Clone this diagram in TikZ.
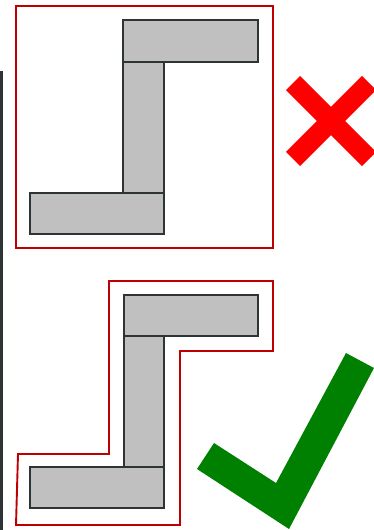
\documentclass[tikz,border=0pt]{standalone}
\begin{document}
\begin{tikzpicture}[x=1pt,y=-1pt,
  bar/.style={fill=barfill,draw=baredge,line width=1.8pt},
  outline/.style={draw=outred,line width=1.9pt},
  ]
\definecolor{barfill}{HTML}{C0C0C0}
\definecolor{baredge}{HTML}{2E3436}
\definecolor{outred}{HTML}{C00000}
\definecolor{okgreen}{HTML}{008000}
\useasboundingbox (0,0) rectangle (374,530);
\clip (0,0) rectangle (374,530);
% left edge line
\draw[baredge,line width=3pt] (1.5,71) -- (1.5,531);
% top panel
\draw[outline] (16,6) rectangle (273,248);
\draw[bar] (123,62) rectangle (164,193);
\draw[bar] (123,20) rectangle (258,62);
\draw[bar] (30,193) rectangle (164,234);
% red cross
\draw[red,line width=20pt] (293,83) -- (369,159);
\draw[red,line width=20pt] (369,83) -- (293,159);
% bottom panel
\draw[outline] (109,281) -- (273,281) -- (273,351) -- (180,351) -- (180,525) -- (16,525) -- (18,454) -- (109,454) -- cycle;
\draw[bar] (124,336) rectangle (164,467);
\draw[bar] (124,295) rectangle (258,336);
\draw[bar] (30,467) rectangle (164,508);
% green check
\fill[okgreen] (197,469) -- (214,443) -- (276,483) -- (346,353) -- (374,368) -- (289,529) -- cycle;
\end{tikzpicture}
\end{document}
